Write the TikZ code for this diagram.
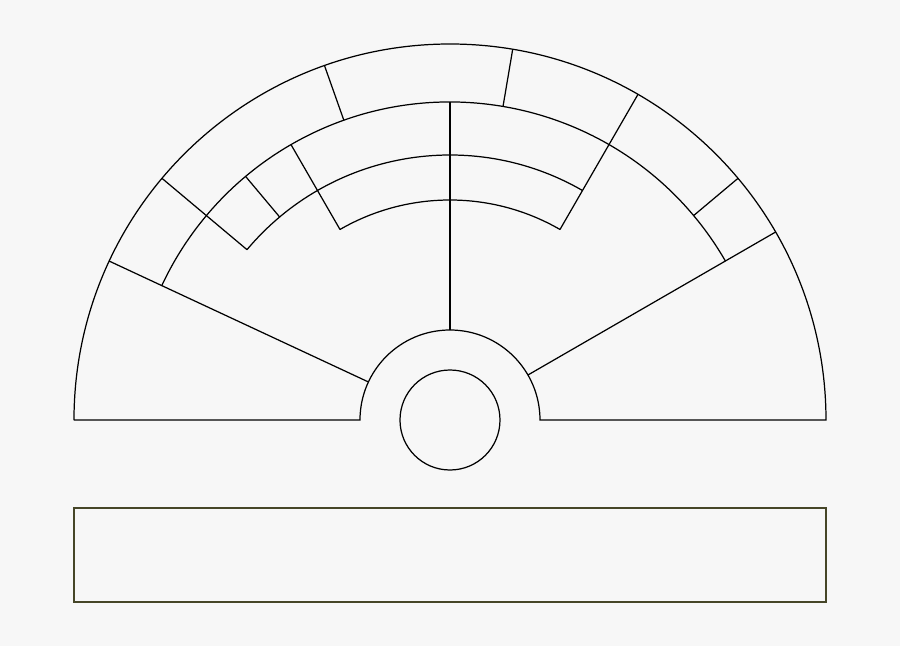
\documentclass[tikz,border=0pt]{standalone}
\definecolor{bgcol}{RGB}{247,247,247}
\definecolor{boxcol}{RGB}{70,70,40}
\tikzset{fanline/.style={line width=0.7pt, black}}
\begin{document}
\begin{tikzpicture}
      \fill[bgcol] (-9,-4.52) rectangle (9,8.4);
      \useasboundingbox (-9,-4.52) rectangle (9,8.4);
      \coordinate (c) at (0,0);
      \begin{scope}[fanline]
        % outline
        \draw (180:7.52) -- (180:1.8) arc (180:0:1.8) -- (0:7.52) arc (0:180:7.52);
        \draw (c) circle (1);
        % arcs
        \draw (30:6.36) arc (30:155:6.36);
        \draw (60:5.3) arc (60:140:5.3);
        \draw (60:4.4) arc (60:120:4.4);
        % radial lines
        \draw (155:1.8) -- (155:7.52);
        \draw (30:1.8) -- (30:7.52);
        \draw (90:1.8) -- (90:6.36);
        \draw (140:5.3) -- (140:7.52);
        \draw (109.5:6.36) -- (109.5:7.52);
        \draw (80.4:6.36) -- (80.4:7.52);
        \draw (60:4.4) -- (60:7.52);
        \draw (40:6.36) -- (40:7.52);
        \draw (130:5.3) -- (130:6.36);
        \draw (120:4.4) -- (120:6.36);
      \end{scope}
      \draw[line width=0.7pt, boxcol] (-7.52,-1.76) rectangle (7.52,-3.64);
    \end{tikzpicture}
\end{document}
